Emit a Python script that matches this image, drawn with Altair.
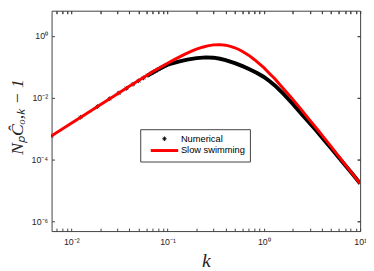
import altair as alt
import pandas as pd

# ---- data ----
red_k = [0.00624, 0.01, 0.015, 0.02, 0.03, 0.04, 0.05, 0.07, 0.1, 0.12, 0.15, 0.18, 0.2, 0.23,
         0.26, 0.3, 0.35, 0.4, 0.45, 0.5, 0.55, 0.6, 0.7, 0.8, 0.9, 1.0, 1.15, 1.3, 1.5, 1.75,
         2.0, 2.5, 3.0, 3.5, 4.0, 5.0, 6.0, 7.0, 8.5, 10.0]
red_y = [5.8e-4, 1.48e-3, 3.33e-3, 5.9e-3, 0.0132, 0.0236, 0.036, 0.069, 0.13, 0.178, 0.254,
         0.328, 0.374, 0.432, 0.478, 0.514, 0.525, 0.503, 0.46, 0.415, 0.365, 0.315, 0.235,
         0.17, 0.125, 0.094, 0.06, 0.041, 0.0245, 0.0142, 0.0088, 0.0038, 0.00187, 0.00104,
         6.2e-4, 2.6e-4, 1.25e-4, 6.8e-5, 3.15e-5, 1.65e-5]

black_k = [0.00624, 0.0125, 0.0187, 0.025, 0.0312, 0.0374, 0.0437, 0.05, 0.0562, 0.0624,
           0.0686, 0.0749, 0.0811, 0.0874, 0.0936, 0.1, 0.13, 0.16, 0.2, 0.25, 0.3, 0.35, 0.4,
           0.5, 0.6, 0.7, 0.85, 1.0, 1.15, 1.3, 1.6, 2.0, 2.5, 3.0, 3.5, 4.0, 5.0, 6.0, 7.0,
           8.5, 10.0]
black_y = [5.8e-4, 2.32e-3, 5.16e-3, 9.2e-3, 0.0142, 0.0201, 0.0272, 0.0351, 0.0436, 0.0529,
           0.0628, 0.0733, 0.0842, 0.0956, 0.107, 0.117, 0.148, 0.172, 0.192, 0.203, 0.198,
           0.183, 0.166, 0.132, 0.105, 0.085, 0.063, 0.047, 0.034, 0.025, 0.0132, 0.0063,
           0.0028, 0.0015, 8.6e-4, 5.2e-4, 2.3e-4, 1.15e-4, 6.5e-5, 3.1e-5, 1.66e-5]

series_names = ["Numerical", "Slow swimming"]
series_colors = ["#000000", "#ff0000"]

x_ticks = [0.007, 0.008, 0.009,
           0.01, 0.02, 0.03, 0.04, 0.05, 0.06, 0.07, 0.08, 0.09,
           0.1, 0.2, 0.3, 0.4, 0.5, 0.6, 0.7, 0.8, 0.9,
           1.0, 2.0, 3.0, 4.0, 5.0, 6.0, 7.0, 8.0, 9.0, 10.0]
x_tick_labels = {0.01: "10⁻²", 0.1: "10⁻¹", 1.0: "10⁰", 10.0: "10¹"}
y_ticks = [1e-6, 1e-4, 1e-2, 1.0]
y_tick_labels = {1e-6: "10⁻⁶", 1e-4: "10⁻⁴", 1e-2: "10⁻²", 1.0: "10⁰"}

x_domain = [0.00624, 10.0]
y_domain = [4.74e-7, 6.6]

# ---- tables ----
red_df = pd.DataFrame({"k": red_k, "v": red_y, "series": series_names[1]})
black_df = pd.DataFrame({"k": black_k, "v": black_y, "series": series_names[0]})


def label_expr(d):
    expr = "''"
    for val, txt in reversed(list(d.items())):
        expr = f"datum.value == {repr(val)} ? '{txt}' : ({expr})"
    return expr


ASTERISK = "M-1,0L1,0M0,-1L0,1M-0.7,-0.7L0.7,0.7M-0.7,0.7L0.7,-0.7"
TXT = "#262626"
FRAME = "#404040"

xs = alt.Scale(type="log", domain=x_domain, nice=False)
ys = alt.Scale(type="log", domain=y_domain, nice=False)

legend = alt.Legend(
    orient="none", legendX=90.5, legendY=121, title=None,
    strokeColor=FRAME, fillColor="white", padding=5, rowPadding=0,
    symbolOffset=15, labelOffset=12,
    labelFont="Liberation Sans", labelFontSize=9.5, labelColor="black",
    symbolType={"expr": f"datum.value == 'Numerical' ? '{ASTERISK}' : 'stroke'"},
    symbolSize={"expr": "datum.value == 'Numerical' ? 22 : 784"},
    symbolStrokeWidth={"expr": "datum.value == 'Numerical' ? 0.9 : 3"},
    symbolStrokeColor={"expr": "datum.value == 'Numerical' ? 'black' : 'red'"},
    symbolFillColor="transparent",
)
color = alt.Color("series:N", scale=alt.Scale(domain=series_names, range=series_colors),
                  legend=legend)

common_axis = dict(offset=-3, tickSize=3, domain=False, grid=False, tickColor=FRAME,
                   labelFont="Liberation Sans", labelFontSize=9, labelColor=TXT,
                   labelOverlap=False, labelFlush=False)

x_bottom = alt.Axis(orient="bottom", values=x_ticks, labelExpr=label_expr(x_tick_labels),
                    labelPadding=7, title="k", titleFont="Liberation Serif",
                    titleFontStyle="italic", titleFontWeight="normal", titleFontSize=20,
                    titleColor=TXT, titleBaseline="alphabetic", titleY=39, **common_axis)
y_left = alt.Axis(orient="left", values=y_ticks, labelExpr=label_expr(y_tick_labels),
                  labelPadding=4, title="NₚĈₒ,ₖ − 1", titleFont="Liberation Serif",
                  titleFontStyle="italic", titleFontWeight="normal", titleFontSize=18,
                  titleColor=TXT, titleAngle=270, titleBaseline="alphabetic",
                  titleAlign="center", titleX=-33, titleY=108, **common_axis)
x_top = alt.Axis(orient="top", values=x_ticks, labels=False, title=None, **common_axis)
y_right = alt.Axis(orient="right", values=y_ticks, labels=False, title=None, **common_axis)

black_line = alt.Chart(black_df).transform_filter(alt.datum.k >= 0.06).mark_line(
    strokeWidth=4, clip=True
).encode(
    x=alt.X("k:Q", scale=xs, axis=x_top),
    y=alt.Y("v:Q", scale=ys, axis=y_right),
    color=color,
)

black_pts = alt.Chart(black_df).transform_filter(alt.datum.k <= 0.11).mark_point(
    shape=ASTERISK, filled=False, strokeWidth=0.9, size=22, opacity=1, clip=True
).encode(
    x=alt.X("k:Q", scale=xs, axis=x_top),
    y=alt.Y("v:Q", scale=ys, axis=y_right),
    color=color,
)

red_line = alt.Chart(red_df).mark_line(strokeWidth=3, clip=True).encode(
    x=alt.X("k:Q", scale=xs, axis=x_bottom),
    y=alt.Y("v:Q", scale=ys, axis=y_left),
    color=color,
)

chart = alt.layer(black_line, black_pts, red_line).resolve_axis(
    x="independent", y="independent"
).properties(
    width=315, height=225,
    autosize=alt.AutoSizeParams(type="none"),
    padding={"left": 44.5, "top": 0, "right": 6, "bottom": 38},
).configure_view(stroke=FRAME, strokeWidth=1)

chart.save("out.html", embed_options={"renderer": "svg", "actions": False})
